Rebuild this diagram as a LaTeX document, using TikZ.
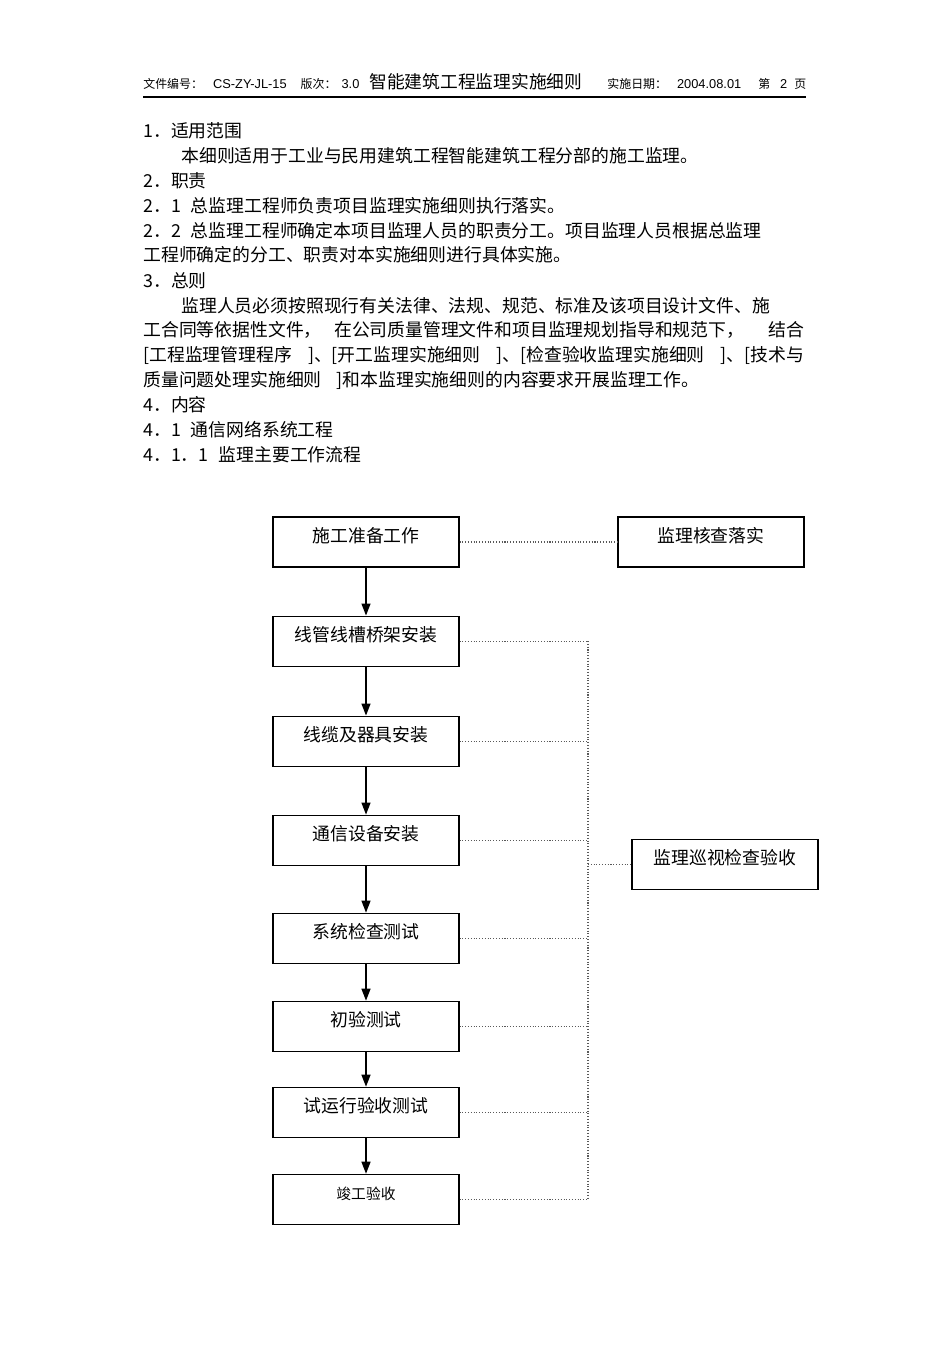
\documentclass[tikz,border=0pt]{standalone}
\usepackage{fontspec}
\setmainfont{Noto Sans CJK SC}
\newfontfamily\lat{Liberation Sans}
\usetikzlibrary{positioning,arrows.meta}

\newcommand{\bodysize}{\fontsize{10.15pt}{12pt}\selectfont}
\newcommand{\hdsize}{\fontsize{6.8pt}{8pt}\selectfont}
\newcommand{\hdlat}{\lat\fontsize{7.3pt}{8pt}\selectfont}
\newcommand{\titlesize}{\fontsize{10.1pt}{12pt}\selectfont}
\newcommand{\finalsize}{\fontsize{8.4pt}{10pt}\selectfont}

\begin{document}
\begin{tikzpicture}[x=0.02cm, y=-0.02cm,
    txt/.style={anchor=base west, inner sep=0pt, font=\bodysize},
    hd/.style={anchor=base west, inner sep=0pt, font=\hdsize},
    stepbox/.style={rectangle, draw, line width=0.6pt, minimum width=3.72cm, minimum height=1cm,
        inner sep=0pt, text height=0.45cm, text depth=0.45cm, font=\bodysize},
    flow/.style={-{Triangle[length=0.24cm, width=0.18cm]}, line width=0.75pt},
    dots/.style={densely dotted, draw=black!65, line width=0.6pt}]
    \fill[white] (0,0) rectangle (950,1345);
    \useasboundingbox (0,0) rectangle (950,1345);

    % header
    \node[hd] (hdleft) at (143,89) {文件编号：\hspace{0.2cm}{\hdlat CS-ZY-JL-15}\hspace{0.28cm}版次：\hspace{0.1cm}{\hdlat 3.0}};
    \node[hd, font=\titlesize] (hdtitle) at (369,89) {智能建筑工程监理实施细则};
    \node[hd] (hdright) at (607,89) {实施日期：\hspace{0.2cm}{\hdlat 2004.08.01}\hspace{0.34cm}第\hspace{0.2cm}{\hdlat 2}\hspace{0.14cm}页};
    \draw[line width=0.7pt] (143,97) -- (806,97);

    % text
    \node[txt] (s1) at (143,137) {1．适用范围};
    \node[txt] (s1a) at (181,162) {本细则适用于工业与民用建筑工程智能建筑工程分部的施工监理。};
    \node[txt] (s2) at (143,187) {2．职责};
    \node[txt] (s21) at (143,212) {2．1\hspace{0.2cm}总监理工程师负责项目监理实施细则执行落实。};
    \node[txt] (s22) at (143,237) {2．2\hspace{0.2cm}总监理工程师确定本项目监理人员的职责分工。项目监理人员根据总监理};
    \node[txt] (s22b) at (143,261) {工程师确定的分工、职责对本实施细则进行具体实施。};
    \node[txt] (s3) at (143,287) {3．总则};
    \node[txt] (s3a) at (181,312) {监理人员必须按照现行有关法律、法规、规范、标准及该项目设计文件、施};
    \node[txt] (s3b) at (143,336) {\makebox[13.22cm][s]{工合同等依据性文件，\hspace{0.25cm}在公司质量管理文件和项目监理规划指导和规范下，\hfill 结合}};
    \node[txt] (s3c) at (143,361) {\makebox[13.22cm][s]{[工程监理管理程序\hfill]、[开工监理实施细则\hfill]、[检查验收监理实施细则\hfill]、[技术与}};
    \node[txt] (s3d) at (143,386) {质量问题处理实施细则\hspace{0.3cm}]和本监理实施细则的内容要求开展监理工作。};
    \node[txt] (s4) at (143,411) {4．内容};
    \node[txt] (s41) at (143,436) {4．1\hspace{0.2cm}通信网络系统工程};
    \node[txt] (s411) at (143,461) {4．1．1\hspace{0.2cm}监理主要工作流程};

    % flow chart
    \node[stepbox] (prep) at (366,542) {施工准备工作};
    \node[stepbox, below=0.96cm of prep] (pipe) {线管线槽桥架安装};
    \node[stepbox, below=0.98cm of pipe] (cable) {线缆及器具安装};
    \node[stepbox, below=0.96cm of cable] (equip) {通信设备安装};
    \node[stepbox, below=0.94cm of equip] (systest) {系统检查测试};
    \node[stepbox, below=0.74cm of systest] (initest) {初验测试};
    \node[stepbox, below=0.70cm of initest] (trial) {试运行验收测试};
    \node[stepbox, below=0.72cm of trial, font=\finalsize] (final) {竣工验收};

    \node[stepbox, right=3.16cm of prep] (check) {监理核查落实};
    \node[stepbox, right=3.44cm of equip, yshift=-0.48cm] (patrol) {监理巡视检查验收};

    \foreach \a/\b in {prep/pipe,pipe/cable,cable/equip,equip/systest,systest/initest,initest/trial,trial/final}
        \draw[flow] (\a) -- (\b);

    % dotted links
    \coordinate (bus) at (588,641);
    \draw[dots] (prep) -- (check);
    \foreach \n in {pipe,cable,equip,systest,initest,trial,final}
        \draw[dots] (\n.east) -- (\n.east -| bus);
    \draw[dots] (pipe.east -| bus) -- (final.east -| bus);
    \draw[dots] (patrol.west -| bus) -- (patrol);
\end{tikzpicture}
\end{document}
